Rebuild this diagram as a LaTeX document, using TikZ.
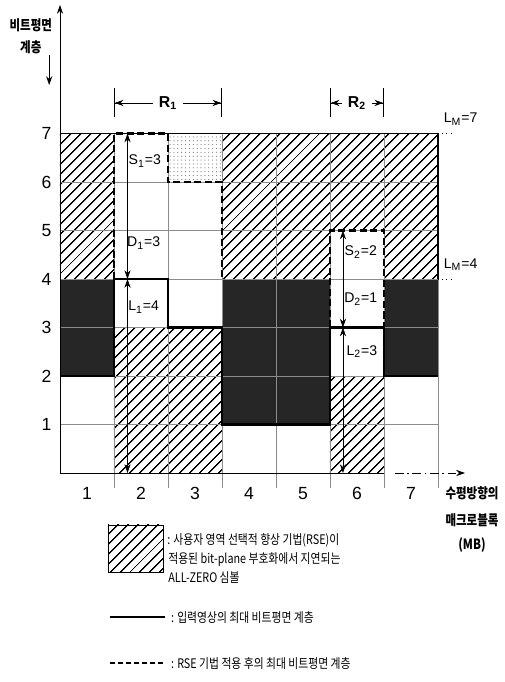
\documentclass[tikz,border=0pt]{standalone}
\usepackage{fontspec}
\setmainfont{Liberation Sans}
\newfontfamily\kr[FakeStretch=0.82]{Noto Sans CJK KR}
\usetikzlibrary{patterns,patterns.meta,arrows.meta}
\newcommand{\ink}{black!85}
\newcommand{\grd}{black!45}

\begin{document}
\begin{tikzpicture}[x=1.08cm, y=0.97cm, >={Stealth[length=5pt,width=3.5pt]},
        zero/.style={pattern={Lines[angle=45,distance=4pt,line width=0.8pt]}},
        coded/.style={fill=\ink},
        spare/.style={pattern={Dots[distance=2.2pt,radius=0.35pt]}, pattern color=black!50},
        gridline/.style={draw=\grd, line width=0.4pt},
        inmax/.style={line width=1.3pt},
        rsemax/.style={line width=1.3pt, dash pattern=on 4pt off 2pt},
        lbl/.style={font=\fontsize{8}{9}\selectfont, inner sep=1pt},
        num/.style={font=\fontsize{10}{11}\selectfont},
        krlbl/.style={font=\kr\bfseries\fontsize{8}{9}\selectfont, inner sep=0pt},
        legtxt/.style={font=\kr\fontsize{7.5}{8}\selectfont, anchor=west, inner sep=0pt}]
        \useasboundingbox (-1.111,-4.309) rectangle (8.241,9.753);
        % ALL-ZERO regions
        \fill[zero] (0,4) rectangle (1,7);
        \fill[zero] (3,4) rectangle (5,7);
        \fill[zero] (5,5) rectangle (6,7);
        \fill[zero] (6,4) rectangle (7,7);
        \fill[zero] (1,0) rectangle (3,3);
        \fill[zero] (5,0) rectangle (6,2);
        \fill[coded] (0,2) rectangle (1,4);
        \fill[coded] (3,1) rectangle (5,4);
        \fill[coded] (6,2) rectangle (7,4);
        \fill[spare] (2,6) rectangle (3,7);
        % grid
        \foreach \k in {1,...,7}
            \draw[gridline] (0,\k) -- (7,\k);
        \foreach \c in {1,...,7}
            \draw[gridline] (\c,-0.3) -- (\c,7);
        \draw[line width=0.6pt] (7,4) -- (7,7) -- (0,7);
        % axes
        \coordinate (o) at (0,0);
        \coordinate (ytop) at (0,9.65);
        \coordinate (xend) at (6,0);
        \coordinate (xa) at (6.2,0);
        \coordinate (xb) at (7.5,0);
        \draw[->] (o) -- (ytop);
        \draw (o) -- (xend);
        \draw[->, dash pattern=on 5pt off 2pt on 1pt off 2pt] (xa) -- (xb);
        \coordinate (dn1) at (-0.2,8.62);
        \coordinate (dn2) at (-0.2,8.0);
        \draw[->] (dn1) -- (dn2);
        \node[krlbl] (ylab1) at (-0.54,9.24) {비트평면};
        \node[krlbl] (ylab2) at (-0.54,8.78) {계층};
        \node[krlbl] (xlab1) at (7.63,-0.42) {수평방향의};
        \node[krlbl] (xlab2) at (7.63,-0.97) {매크로블록};
        \node[krlbl] (xlab3) at (7.63,-1.48) {(MB)};
        \foreach \k in {1,...,7}
            \node[num] (lv\k) at (-0.25,\k) {\k};
        \foreach \c in {1,...,7}
            \node[num] (mb\c) at (\c-0.5,-0.42) {\c};
        % max bit-plane levels
        \draw[inmax] (0,2) -- (1,2) -- (1,4) -- (2,4) -- (2,3) -- (3,3) -- (3,1)
            -- (5,1) -- (5,3) -- (6,3) -- (6,2) -- (7,2);
        \draw[rsemax] (1,4) -- (1,7) -- (2,7) -- (2,6) -- (3,6) -- (3,4);
        \draw[rsemax] (5,3) -- (5,5) -- (6,5) -- (6,3);
        \draw[dotted] (7,7) -- (7.3,7);
        \draw[dotted] (7,4) -- (7.3,4);
        \node[lbl] (lm7) at (7.42,7.3) {L\textsubscript{M}=7};
        \node[lbl] (lm4) at (7.42,4.3) {L\textsubscript{M}=4};
        % shifts of the two regions
        \coordinate (a0) at (1.25,0);
        \coordinate (a4) at (1.25,4);
        \coordinate (a7) at (1.25,7);
        \draw[<->] (a0) -- (a4);
        \draw[<->] (a4) -- (a7);
        \node[lbl] (s1) at (1.57,6.43) {S\textsubscript{1}=3};
        \node[lbl] (d1) at (1.55,4.74) {D\textsubscript{1}=3};
        \node[lbl] (l1) at (1.55,3.42) {L\textsubscript{1}=4};
        \coordinate (b0) at (5.24,0);
        \coordinate (b3) at (5.24,3);
        \coordinate (b5) at (5.24,5);
        \draw[<->] (b0) -- (b3);
        \draw[<->] (b3) -- (b5);
        \node[lbl] (s2) at (5.57,4.56) {S\textsubscript{2}=2};
        \node[lbl] (d2) at (5.57,3.58) {D\textsubscript{2}=1};
        \node[lbl] (l2) at (5.59,2.5) {L\textsubscript{2}=3};
        \coordinate (r1a) at (1,7.63);
        \coordinate (r1b) at (3,7.63);
        \coordinate (r2a) at (5,7.63);
        \coordinate (r2b) at (6,7.63);
        \draw[{Bar[width=0.58cm]Stealth[length=5pt,width=3.5pt]}-{Stealth[length=5pt,width=3.5pt]Bar[width=0.58cm]}] (r1a) -- (r1b)
            node[midway, fill=white, font=\bfseries\fontsize{9}{10}\selectfont] (r1) {R\textsubscript{1}};
        \draw[{Bar[width=0.58cm]Stealth[length=5pt,width=3.5pt]}-{Stealth[length=5pt,width=3.5pt]Bar[width=0.58cm]}] (r2a) -- (r2b)
            node[midway, fill=white, font=\bfseries\fontsize{9}{10}\selectfont] (r2) {R\textsubscript{2}};
        % legend
        \draw[zero, draw=black, line width=0.4pt] (0.89,-2.04) rectangle (1.91,-1.07);
        \node[legtxt] (leg1) at (1.98,-1.38) {: 사용자 영역 선택적 향상 기법(RSE)이};
        \node[legtxt] (leg1b) at (2.0,-1.79) {적용된 bit-plane 부호화에서 지연되는};
        \node[legtxt] (leg1c) at (2.0,-2.16) {ALL-ZERO 심볼};
        \coordinate (sa) at (0.93,-2.97);
        \coordinate (sb) at (1.94,-2.97);
        \draw[line width=1pt] (sa) -- (sb);
        \node[legtxt] (leg2) at (2.05,-2.97) {: 입력영상의 최대 비트평면 계층};
        \coordinate (da) at (0.93,-3.92);
        \coordinate (db) at (1.94,-3.92);
        \draw[line width=1pt, dash pattern=on 3pt off 1.5pt] (da) -- (db);
        \node[legtxt] (leg3) at (2.05,-3.92) {: RSE 기법 적용 후의 최대 비트평면 계층};
\end{tikzpicture}
\end{document}
